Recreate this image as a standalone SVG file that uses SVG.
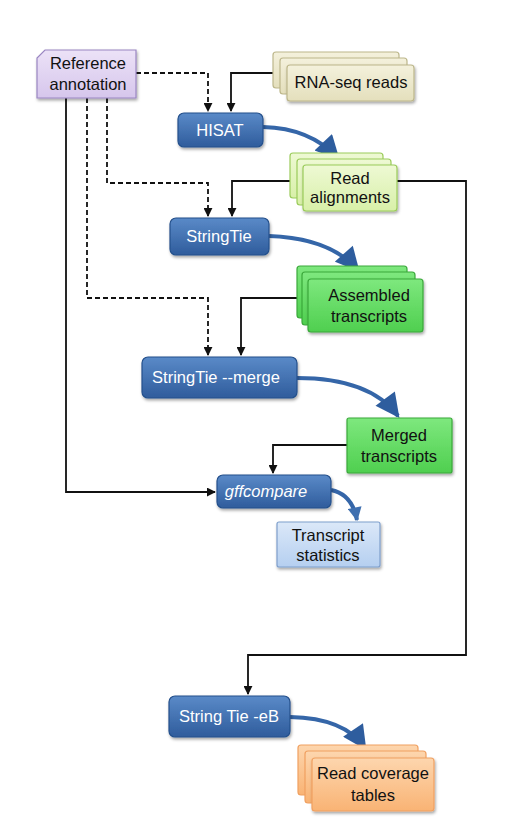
<svg xmlns="http://www.w3.org/2000/svg" width="512" height="820" viewBox="0 0 512 820">
<defs>
<linearGradient id="blueG" x1="0" y1="0" x2="0" y2="1"><stop offset="0" stop-color="#5a8ac8"/><stop offset="1" stop-color="#2f5c9c"/></linearGradient>
<linearGradient id="greenG" x1="0" y1="0" x2="0" y2="1"><stop offset="0" stop-color="#7ee87e"/><stop offset="1" stop-color="#4fcf4f"/></linearGradient>
<linearGradient id="lgreenG" x1="0" y1="0" x2="0" y2="1"><stop offset="0" stop-color="#eef9d4"/><stop offset="1" stop-color="#d8f0a8"/></linearGradient>
<linearGradient id="orangeG" x1="0" y1="0" x2="0" y2="1"><stop offset="0" stop-color="#fdd6ae"/><stop offset="1" stop-color="#f9b374"/></linearGradient>
<linearGradient id="lblueG" x1="0" y1="0" x2="0" y2="1"><stop offset="0" stop-color="#dbe8f8"/><stop offset="1" stop-color="#b5cff0"/></linearGradient>
<linearGradient id="purpleG" x1="0" y1="0" x2="0" y2="1"><stop offset="0" stop-color="#ece2f7"/><stop offset="1" stop-color="#d6c6ec"/></linearGradient>
<linearGradient id="beigeG" x1="0" y1="0" x2="0" y2="1"><stop offset="0" stop-color="#f4f1dc"/><stop offset="1" stop-color="#e4dfbc"/></linearGradient>
<filter id="sh" x="-10%" y="-10%" width="130%" height="140%"><feDropShadow dx="1" dy="2" stdDeviation="1.5" flood-color="#000" flood-opacity="0.35"/></filter>
<marker id="ah" viewBox="0 0 10 10" refX="9" refY="5" markerWidth="9" markerHeight="9" markerUnits="userSpaceOnUse" orient="auto"><path d="M0,0 L10,5 L0,10 z" fill="#111"/></marker>
<marker id="big" viewBox="0 0 10 10" refX="9" refY="5" markerWidth="26" markerHeight="24" markerUnits="userSpaceOnUse" orient="auto"><path d="M0,0 L10,5 L0,10 z" fill="#2e5d9e"/></marker>
<marker id="mid" viewBox="0 0 10 10" refX="9" refY="5" markerWidth="16" markerHeight="14" markerUnits="userSpaceOnUse" orient="auto"><path d="M0,0 L10,5 L0,10 z" fill="#3f70b0"/></marker>
</defs>
<style>
.t{font-family:"Liberation Sans",Arial,sans-serif;font-size:16.5px;fill:#111;text-anchor:middle}
.w{font-family:"Liberation Sans",Arial,sans-serif;font-size:16.5px;fill:#fff;text-anchor:middle}
.blue{fill:url(#blueG);stroke:#24508c;stroke-width:1.2;filter:url(#sh)}
.ln{fill:none;stroke:#111;stroke-width:1.8}
.dl{fill:none;stroke:#111;stroke-width:1.8;stroke-dasharray:5,3}
.cv{fill:none;stroke:#3566a8;stroke-width:4}
</style>
<rect width="512" height="820" fill="#fff"/>
<g id="connectors">
<path class="dl" d="M136,73 H208 V111" marker-end="url(#ah)"/>
<path class="ln" d="M273,73 H231 V111" marker-end="url(#ah)"/>
<path class="dl" d="M107,98 V183 H208 V216" marker-end="url(#ah)"/>
<path class="ln" d="M290,181 H232 V216" marker-end="url(#ah)"/>
<path class="dl" d="M87,98 V298 H208 V355" marker-end="url(#ah)"/>
<path class="ln" d="M297,298 H241 V355" marker-end="url(#ah)"/>
<path class="ln" d="M66,98 V492 H215" marker-end="url(#ah)"/>
<path class="ln" d="M347,445 H273 V473" marker-end="url(#ah)"/>
<path class="ln" d="M397,181 H466 V655 H248 V694" marker-end="url(#ah)"/>
<path class="cv" d="M263,127 Q310,128 338,158" marker-end="url(#big)"/>
<path class="cv" d="M269,236 Q330,238 358,270" marker-end="url(#big)"/>
<path class="cv" d="M297,378 Q370,378 398,416" marker-end="url(#big)"/>
<path class="cv" d="M331,490 Q352,494 357,520" marker-end="url(#mid)" stroke="#4a7ab8" stroke-width="3"/>
<path class="cv" d="M290,717 Q345,718 365,748" marker-end="url(#big)"/>
</g>
<g id="ref">
<path d="M45,50 H136 V98 H37 V58 Z" fill="url(#purpleG)" stroke="#9a86c2" stroke-width="1.2" filter="url(#sh)"/>
<text class="t" x="88" y="69">Reference</text>
<text class="t" x="88" y="90">annotation</text>
</g>
<g id="rnaseq">
<rect x="273" y="52" width="126" height="36" rx="3" fill="url(#beigeG)" stroke="#bcb68a" stroke-width="1.2"/>
<rect x="280" y="58" width="127" height="36" rx="3" fill="url(#beigeG)" stroke="#bcb68a" stroke-width="1.2"/>
<rect x="287" y="65" width="127" height="36" rx="3" fill="url(#beigeG)" stroke="#bcb68a" stroke-width="1.2" filter="url(#sh)"/>
<text class="t" x="351" y="88">RNA-seq reads</text>
</g>
<g id="hisat">
<rect class="blue" x="178" y="113" width="85" height="34" rx="6"/>
<text class="w" x="220" y="136">HISAT</text>
</g>
<g id="readalign">
<rect x="290" y="153" width="93" height="45" rx="3" fill="url(#lgreenG)" stroke="#9acb5a" stroke-width="1.2"/>
<rect x="297" y="159" width="94" height="46" rx="3" fill="url(#lgreenG)" stroke="#9acb5a" stroke-width="1.2"/>
<rect x="303" y="165" width="94" height="46" rx="3" fill="url(#lgreenG)" stroke="#9acb5a" stroke-width="1.2" filter="url(#sh)"/>
<text class="t" x="350" y="184">Read</text>
<text class="t" x="350" y="203">alignments</text>
</g>
<g id="stringtie">
<rect class="blue" x="170" y="218" width="99" height="37" rx="6"/>
<text class="w" x="219" y="242">StringTie</text>
</g>
<g id="assembled">
<rect x="297" y="266" width="110" height="52" rx="3" fill="url(#greenG)" stroke="#3aa83a" stroke-width="1.2"/>
<rect x="302" y="272" width="113" height="53" rx="3" fill="url(#greenG)" stroke="#3aa83a" stroke-width="1.2"/>
<rect x="308" y="279" width="115" height="53" rx="3" fill="url(#greenG)" stroke="#3aa83a" stroke-width="1.2" filter="url(#sh)"/>
<text class="t" x="369" y="301">Assembled</text>
<text class="t" x="369" y="322">transcripts</text>
</g>
<g id="merge">
<rect class="blue" x="142" y="357" width="155" height="41" rx="6"/>
<text class="w" x="216" y="383">StringTie --merge</text>
</g>
<g id="merged">
<rect x="347" y="418" width="105" height="55" rx="2" fill="url(#greenG)" stroke="#3aa83a" stroke-width="1.2" filter="url(#sh)"/>
<text class="t" x="399" y="441">Merged</text>
<text class="t" x="399" y="462">transcripts</text>
</g>
<g id="gffcompare">
<rect class="blue" x="217" y="475" width="114" height="33" rx="6"/>
<text class="w" x="266" y="497" font-style="italic">gffcompare</text>
</g>
<g id="stats">
<rect x="277" y="522" width="103" height="45" rx="2" fill="url(#lblueG)" stroke="#7f9fcc" stroke-width="1.2" filter="url(#sh)"/>
<text class="t" x="328" y="541">Transcript</text>
<text class="t" x="328" y="561">statistics</text>
</g>
<g id="eb">
<rect class="blue" x="169" y="696" width="121" height="41" rx="6"/>
<text class="w" x="229" y="722">String Tie -eB</text>
</g>
<g id="coverage">
<rect x="298" y="745" width="120" height="50" rx="3" fill="url(#orangeG)" stroke="#f0a060" stroke-width="1.2"/>
<rect x="305" y="751" width="121" height="52" rx="3" fill="url(#orangeG)" stroke="#f0a060" stroke-width="1.2"/>
<rect x="312" y="758" width="122" height="53" rx="3" fill="url(#orangeG)" stroke="#f0a060" stroke-width="1.2" filter="url(#sh)"/>
<text class="t" x="373" y="779">Read coverage</text>
<text class="t" x="373" y="801">tables</text>
</g>
</svg>
